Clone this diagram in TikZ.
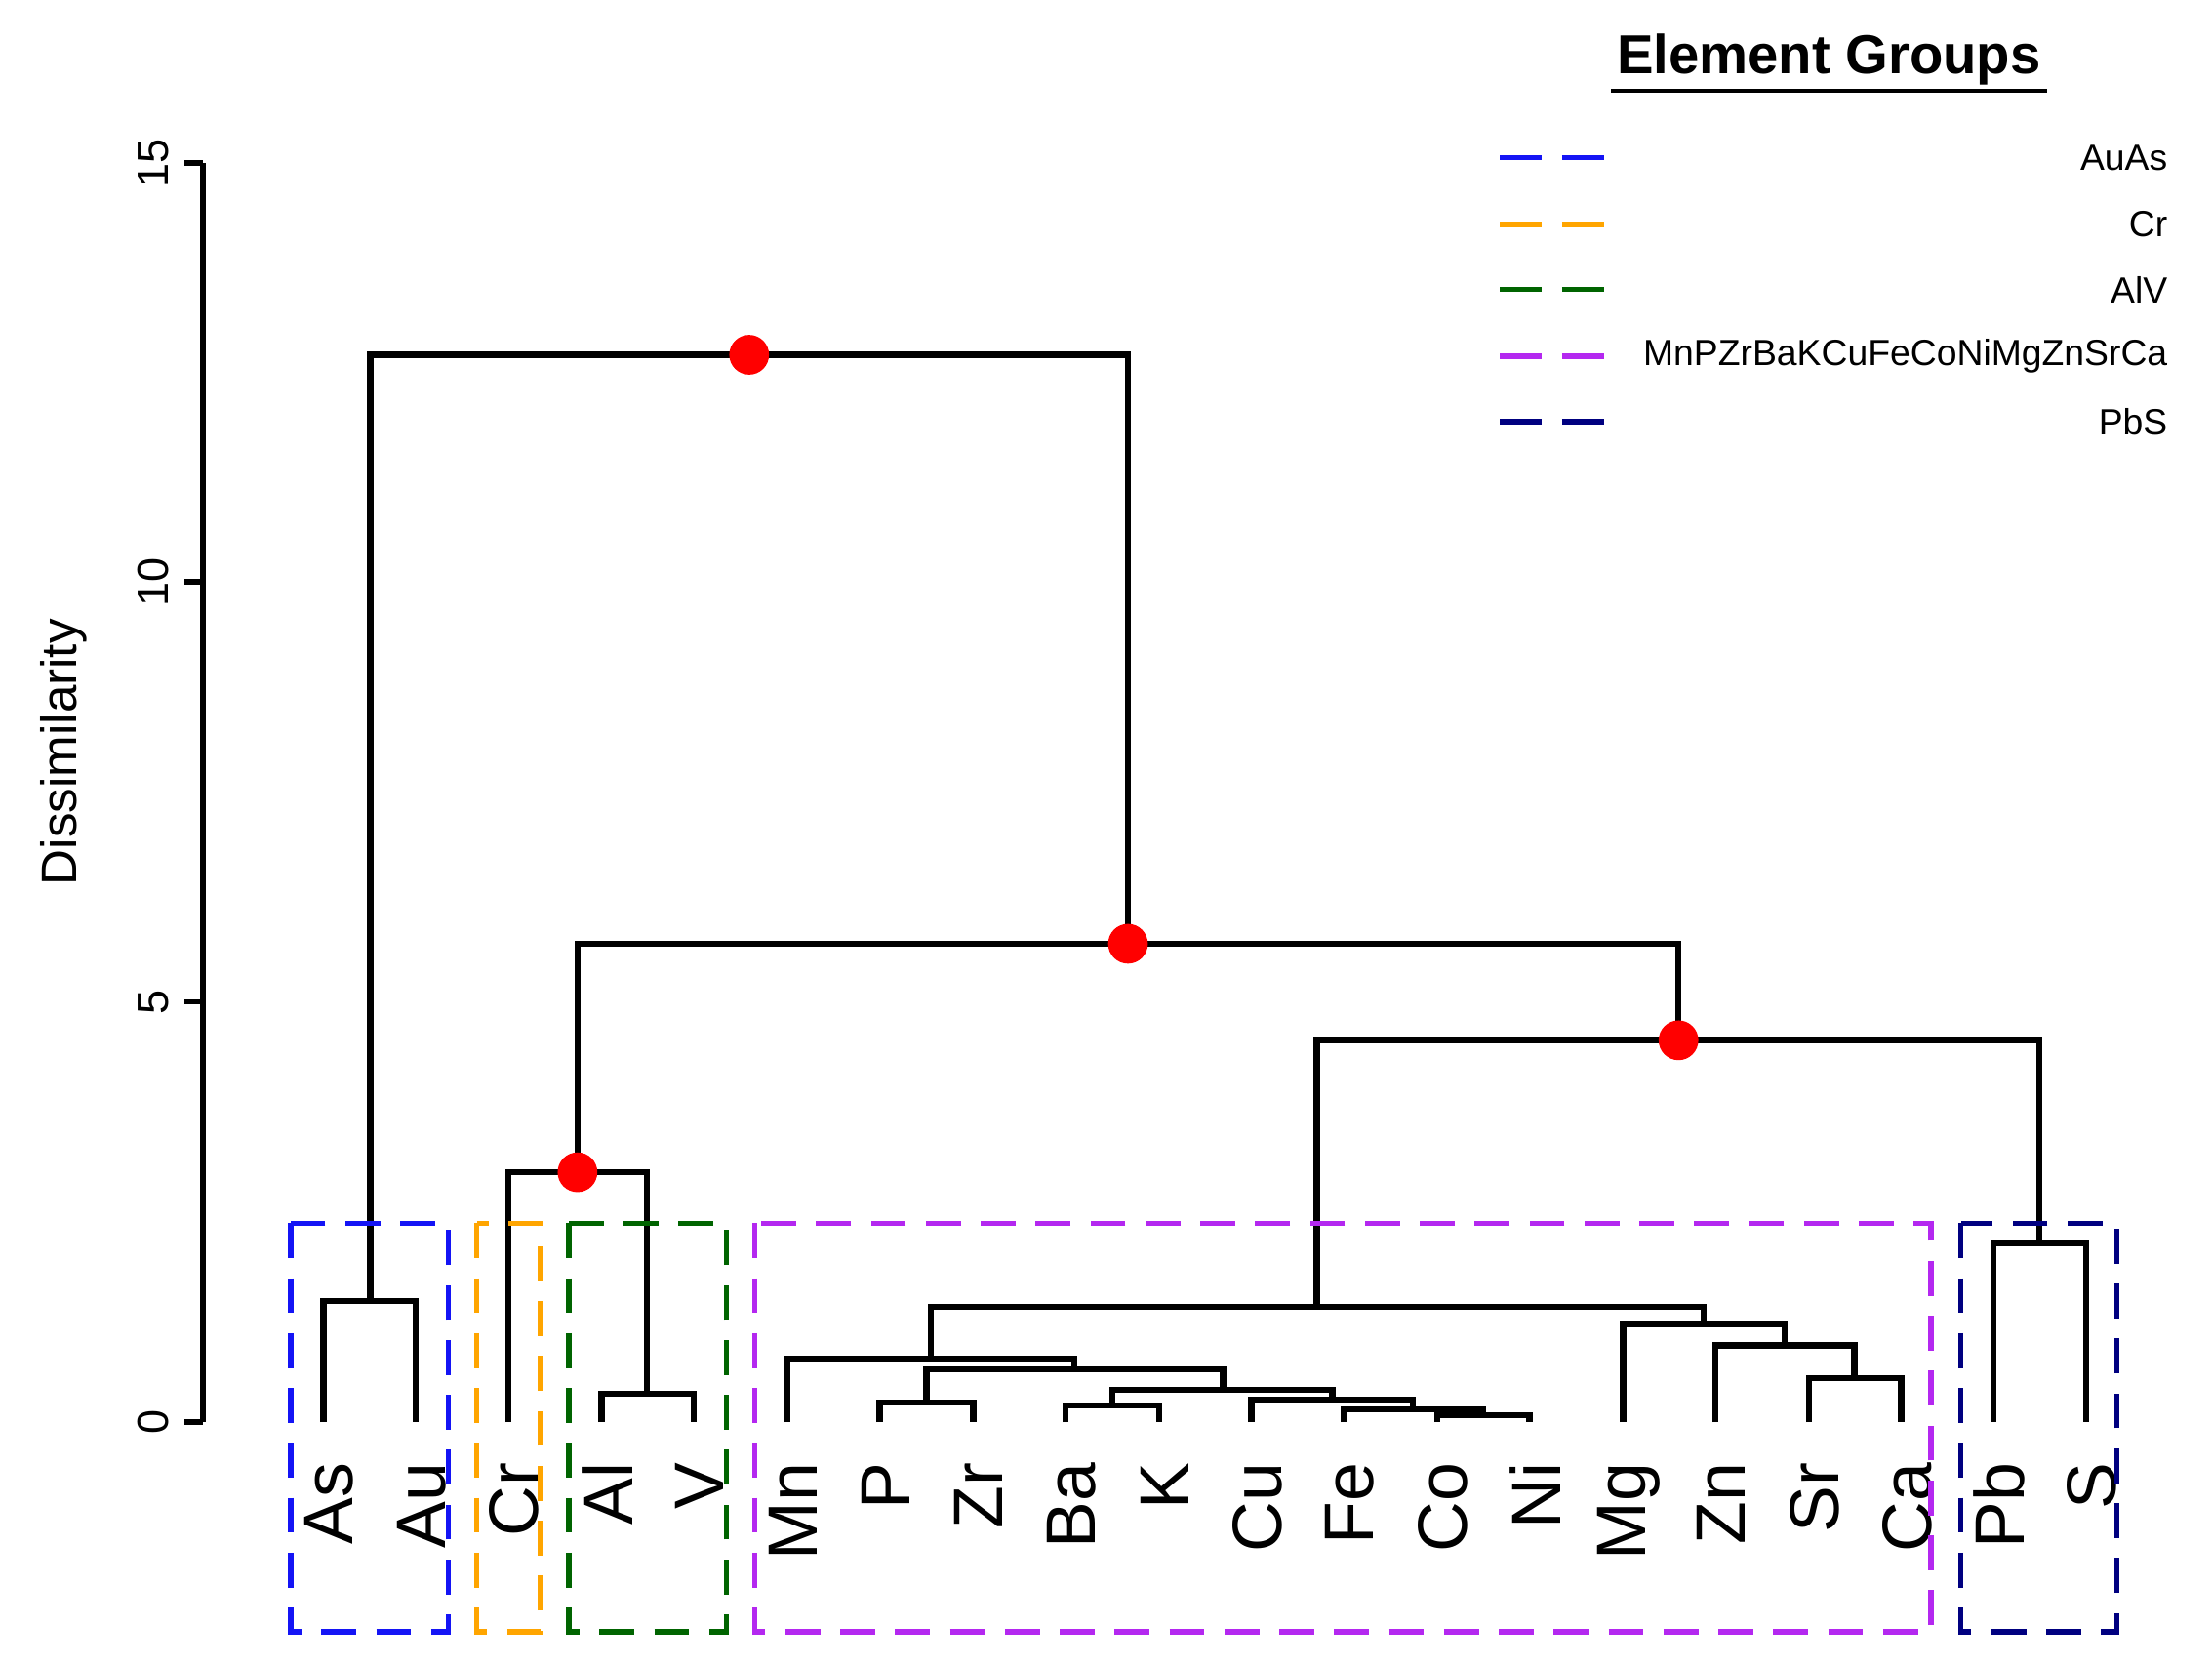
\documentclass[tikz,border=0pt]{standalone}
\usepackage{fontspec}
\setmainfont{Liberation Sans}
\begin{document}
\begin{tikzpicture}[x=0.01cm,y=-0.01cm,
  br/.style={line width=1.2pt},
  dot/.style={circle,fill=red,inner sep=0pt,minimum size=0.28cm},
  box/.style={line width=1.1pt,dash pattern=on 7pt off 4pt},
  leaf/.style={rotate=90,anchor=east,font=\fontsize{14}{14}\selectfont,inner sep=0pt},
  tick/.style={rotate=90,font=\fontsize{8.8}{9}\selectfont},
  leg/.style={anchor=east,font=\fontsize{7.3}{8}\selectfont}]
\useasboundingbox (0,0) rectangle (1559,1174);
% axis
\draw[line width=1.1pt] (143,115) coordinate (ya) -- (143,1002) coordinate (yb);
\foreach \v/\p in {0/1002,5/706,10/410,15/115}{
  \draw[line width=1.1pt] (143,\p) -- (130,\p);
  \node[tick] (t\v) at (108,\p) {\v};}
\node[rotate=90,font=\fontsize{10}{10}\selectfont] (ylab) at (45,530) {Dissimilarity};
% leaves
\foreach \n/\x in {As/228,Au/293,Cr/358,Al/424,V/489,Mn/555,P/620,Zr/686,Ba/751,K/817,Cu/882,Fe/947,Co/1013,Ni/1078,Mg/1144,Zn/1209,Sr/1275,Ca/1340,Pb/1405,S/1470}{
  \coordinate (\n) at (\x,1002);
  \node[leaf] (l\n) at (\x+4,1030) {\n};}
\newcommand{\mrg}[5]{\draw[br] (#1,#3) -- (#1,#5) -- (#2,#5) -- (#2,#4);}
\mrg{228}{293}{1002}{1002}{917}
\mrg{424}{489}{1002}{1002}{982}
\mrg{358}{456}{1002}{982}{826}
\mrg{1013}{1078}{1002}{1002}{997}
\mrg{947}{1045}{1002}{997}{993}
\mrg{882}{996}{1002}{993}{986}
\mrg{751}{817}{1002}{1002}{990}
\mrg{784}{939}{990}{986}{979}
\mrg{620}{686}{1002}{1002}{988}
\mrg{653}{862}{988}{979}{965}
\mrg{555}{757}{1002}{965}{957}
\mrg{1275}{1340}{1002}{1002}{971}
\mrg{1209}{1307}{1002}{971}{948}
\mrg{1144}{1258}{1002}{948}{933}
\mrg{656}{1201}{957}{933}{921}
\mrg{1405}{1470}{1002}{1002}{876}
\mrg{928}{1437}{921}{876}{733}
\mrg{407}{1183}{826}{733}{665}
\mrg{261}{795}{917}{665}{250}
\node[dot] (d1) at (528,250) {};
\node[dot] (d2) at (795,665) {};
\node[dot] (d3) at (1183,733) {};
\node[dot] (d4) at (407,826) {};
\definecolor{gb}{RGB}{20,20,245}
\definecolor{go}{RGB}{255,165,0}
\definecolor{gg}{RGB}{0,100,0}
\definecolor{gp}{RGB}{180,40,240}
\definecolor{gn}{RGB}{0,0,128}
\draw[box,gb] (205,862) rectangle (316,1150);
\draw[box,go] (336,862) rectangle (381,1150);
\draw[box,gg] (401,862) rectangle (512,1150);
\draw[box,gp] (532,862) rectangle (1361,1150);
\draw[box,gn] (1382,862) rectangle (1492,1150);
% legend
\node[font=\bfseries\fontsize{11}{12}\selectfont,inner sep=1pt] (title) at (1289,42) {Element Groups};
\draw[line width=0.8pt] (title.south west) -- (title.south east);
\foreach \c/\t/\y in {gb/AuAs/111,go/Cr/158,gg/AlV/204,gp/MnPZrBaKCuFeCoNiMgZnSrCa/251,gn/PbS/297}{
  \draw[line width=1.1pt,dash pattern=on 8.5pt off 4pt,\c] (1057,\y) -- (1131,\y);
  \node[leg] (lg\t) at (1540,\y) {\t};}
\end{tikzpicture}
\end{document}
